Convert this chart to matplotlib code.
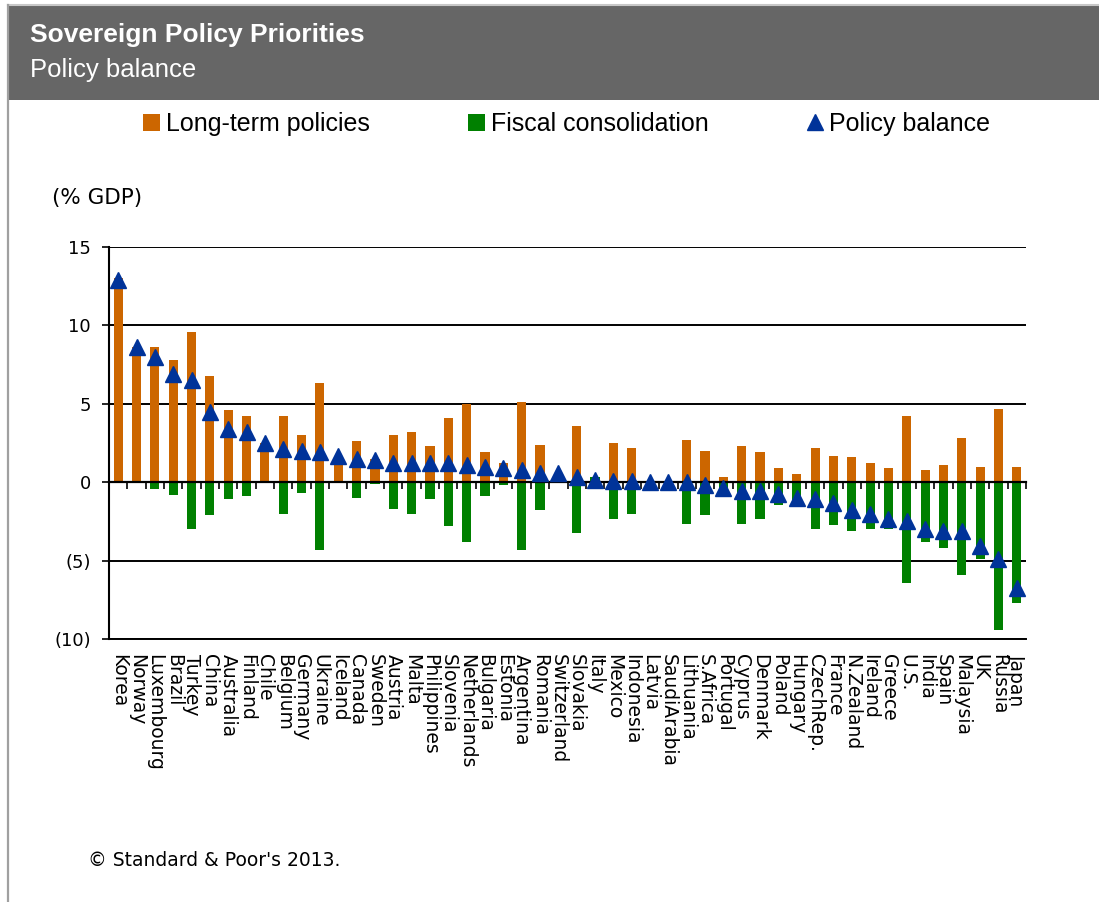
import numpy as np
import matplotlib
matplotlib.use("Agg")
import matplotlib.pyplot as plt
from matplotlib.patches import Rectangle
from matplotlib.lines import Line2D

countries = ["Korea", "Norway", "Luxembourg", "Brazil", "Turkey", "China", "Australia",
             "Finland", "Chile", "Belgium", "Germany", "Ukraine", "Iceland", "Canada",
             "Sweden", "Austria", "Malta", "Philippines", "Slovenia", "Netherlands",
             "Bulgaria", "Estonia", "Argentina", "Romania", "Switzerland", "Slovakia",
             "Italy", "Mexico", "Indonesia", "Latvia", "SaudiArabia", "Lithuania",
             "S.Africa", "Portugal", "Cyprus", "Denmark", "Poland", "Hungary",
             "CzechRep.", "France", "N.Zealand", "Ireland", "Greece", "U.S.", "India",
             "Spain", "Malaysia", "UK", "Russia", "Japan"]

long_term = [13.0, 8.6, 8.6, 7.8, 9.6, 6.8, 4.6, 4.2, 2.5, 4.2,
             3.0, 6.3, 1.7, 2.6, 1.5, 3.0, 3.2, 2.3, 4.1, 5.0,
             1.9, 1.2, 5.1, 2.4, 0.6, 3.6, 0.0, 2.5, 2.2, 0.0,
             0.0, 2.7, 2.0, 0.3, 2.3, 1.9, 0.9, 0.5, 2.2, 1.7,
             1.6, 1.2, 0.9, 4.2, 0.8, 1.1, 2.8, 1.0, 4.7, 1.0]

fiscal = [0.0, 0.0, -0.45, -0.8, -3.0, -2.1, -1.1, -0.85, 0.0, -2.0,
          -0.7, -4.3, 0.0, -1.0, -0.1, -1.7, -2.0, -1.1, -2.8, -3.8,
          -0.85, -0.2, -4.3, -1.75, 0.0, -3.25, 0.35, -2.35, -2.0, 0.0,
          0.0, -2.65, -2.1, -0.7, -2.65, -2.35, -1.45, -1.5, -3.0, -2.75,
          -3.1, -3.0, -3.0, -6.4, -3.8, -4.2, -5.95, -4.9, -9.45, -7.7]

balance = [12.9, 8.6, 8.0, 6.9, 6.5, 4.5, 3.4, 3.2, 2.5, 2.1,
           2.0, 1.9, 1.7, 1.5, 1.4, 1.2, 1.2, 1.2, 1.2, 1.1,
           1.0, 0.9, 0.8, 0.6, 0.6, 0.3, 0.15, 0.1, 0.1, 0.0,
           0.0, 0.0, -0.15, -0.4, -0.55, -0.55, -0.75, -1.0, -1.1, -1.35,
           -1.75, -2.0, -2.35, -2.5, -3.0, -3.1, -3.1, -4.05, -4.9, -6.75]

y_ticks = [-10, -5, 0, 5, 10, 15]
y_tick_labels = ["(10)", "(5)", "0", "5", "10", "15"]

ORANGE = "#CC6600"
GREEN = "#008000"
BLUE = "#003399"

W, H = 1099, 902
fig = plt.figure(figsize=(W / 100, H / 100), dpi=100)
fig.patch.set_facecolor("white")

# ── header bar + frame ──────────────────────────────────────────────────────
fig.patches.append(Rectangle((8 / W, 1 - 100 / H), 1 - 8 / W, 95 / H,
                             transform=fig.transFigure, facecolor="#666666",
                             edgecolor="none", zorder=0))
fig.lines.append(Line2D([8 / W, 1], [1 - 5 / H, 1 - 5 / H], transform=fig.transFigure,
                        color="#c8c8c8", lw=1.5))
fig.lines.append(Line2D([8 / W, 8 / W], [0, 1 - 5 / H], transform=fig.transFigure,
                        color="#a0a0a0", lw=1.6))
fig.text(30 / W, 1 - 42 / H, "Sovereign Policy Priorities", color="white",
         fontsize=19, fontweight="bold", family="Liberation Sans", va="baseline")
fig.text(30 / W, 1 - 77 / H, "Policy balance", color="white",
         fontsize=18.5, family="Liberation Sans", va="baseline")

# ── main axes ───────────────────────────────────────────────────────────────
ax = fig.add_axes([109 / W, 1 - 639 / H, (1026 - 109) / W, (639 - 247) / H])
ax.set_facecolor("white")
x = np.arange(len(countries))

ax.bar(x, long_term, width=0.5, color=ORANGE, zorder=2, label="Long-term policies")
ax.bar(x, fiscal, width=0.5, color=GREEN, zorder=2, label="Fiscal consolidation")
ax.plot(x, balance, linestyle="none", marker="^", ms=11.5, color=BLUE,
        zorder=4, label="Policy balance", clip_on=False)

ax.set_xlim(-0.5, len(countries) - 0.5)
ax.set_ylim(-10, 15)
ax.set_yticks(y_ticks)
ax.set_yticklabels(y_tick_labels)
ax.set_xticks(x)
ax.set_xticklabels(countries, rotation=270, ha="center", va="top",
                   family="DejaVu Sans", fontsize=13.5)
ax.tick_params(axis="x", length=0, pad=11)
ax.tick_params(axis="y", length=5, width=1.2, pad=8, labelsize=13)
ax.yaxis.grid(True, color="black", lw=1.4)
ax.set_axisbelow(True)
for s in ["top", "right"]:
    ax.spines[s].set_visible(False)
ax.spines["left"].set_linewidth(1.5)
ax.spines["bottom"].set_linewidth(1.4)

# zero line with ticks between categories
zero_ax = ax.secondary_xaxis(0, transform=ax.transData)
zero_ax.set_xticks(np.arange(-0.5, len(countries), 1.0))
zero_ax.tick_params(length=5, width=1.2, labelbottom=False, direction="out")
zero_ax.spines["bottom"].set_linewidth(1.6)
zero_ax.set_zorder(3)

fig.text(52 / W, 1 - 198 / H, "(% GDP)", fontsize=15.5, va="center", family="DejaVu Sans")
fig.text(88 / W, 1 - 861 / H, "\u00a9 Standard & Poor's 2013.", fontsize=13.5,
         va="center", family="DejaVu Sans")

# ── legend ──────────────────────────────────────────────────────────────────
handles, labels = ax.get_legend_handles_labels()
order = [1, 2, 0]
handles = [handles[i] for i in order]
labels = [labels[i] for i in order]
leg = fig.legend(handles, labels, loc="center left", bbox_to_anchor=(143 / W, 1 - 124 / H),
                 ncol=3, frameon=False, prop={"family": "Liberation Sans", "size": 18},
                 handlelength=0.68, handleheight=0.68, handletextpad=0.25,
                 columnspacing=3.9, borderpad=0, borderaxespad=0)

fig.savefig("out.png", dpi=100, facecolor=fig.get_facecolor())
